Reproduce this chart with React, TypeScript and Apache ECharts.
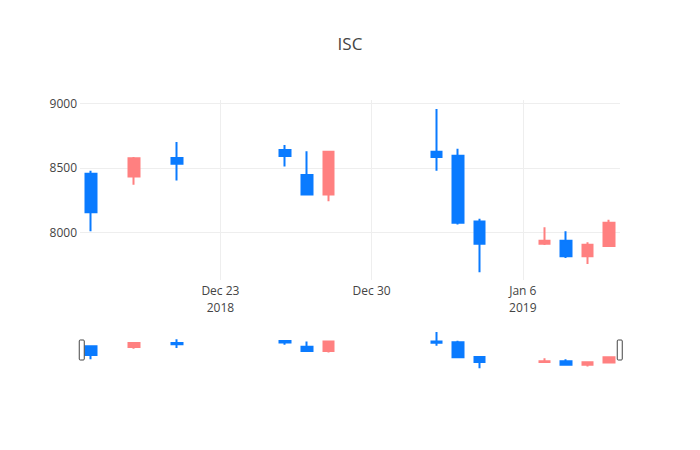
import React, { useEffect, useRef } from "react";
import * as echarts from "echarts";

// ---- data ----
const DATES = [
  "2018-12-17", "2018-12-19", "2018-12-21", "2018-12-26", "2018-12-27", "2018-12-28",
  "2019-01-02", "2019-01-03", "2019-01-04", "2019-01-07", "2019-01-08", "2019-01-09", "2019-01-10",
];
const OPEN = [8456, 8433, 8577, 8639, 8446, 8294, 8626, 8595, 8087, 7915, 7938, 7817, 7897];
const CLOSE = [8157, 8574, 8533, 8593, 8294, 8625, 8585, 8077, 7915, 7938, 7817, 7907, 8077];
const LOW = [8010, 8371, 8402, 8512, 8290, 8242, 8479, 8062, 7694, 7905, 7804, 7758, 7897];
const HIGH = [8479, 8585, 8701, 8678, 8628, 8627, 8955, 8649, 8108, 8041, 8010, 7925, 8100];

const X_MIN = "2018-12-16T12:00";
const X_MAX = "2019-01-10T12:00";
const X_TICKS = ["2018-12-23", "2018-12-30", "2019-01-06"];
const Y_MIN = 7634;
const Y_MAX = 9025;
const Y_TICKS = [8000, 8500, 9000];
const MONTHS = ["Jan", "Feb", "Mar", "Apr", "May", "Jun", "Jul", "Aug", "Sep", "Oct", "Nov", "Dec"];
const TITLE = "ISC";

const UP = "#ff8080";
const DOWN = "#0a7bff";
const FONT = "'Open Sans', sans-serif";
const TEXT = "#444";
const GRID = "#eeeeee";

// local-time milliseconds for "YYYY-MM-DD" or "YYYY-MM-DDTHH:mm"
function toMs(s: string): number {
  const [datePart, timePart] = s.split("T");
  const [y, m, d] = datePart.split("-").map(Number);
  let hh = 0;
  let mm = 0;
  if (timePart) {
    [hh, mm] = timePart.split(":").map(Number);
  }
  return new Date(y, m - 1, d, hh, mm).getTime();
}

export default function App() {
  const ref = useRef<HTMLDivElement>(null);
  useEffect(() => {
    if (!ref.current) return;
    const chart = echarts.init(ref.current, undefined, { renderer: "svg" });
    const rows = DATES.map((d, i) => [toMs(d), OPEN[i], CLOSE[i], LOW[i], HIGH[i]]);
    const tickMs = X_TICKS.map(toMs);
    const tickYears = tickMs.map((t) => new Date(t).getFullYear());
    // ticks under which the year is written (first tick and each change of year)
    const yearTickMs = tickMs.filter((t, i) => i === 0 || tickYears[i] !== tickYears[i - 1]);
    const xMin = toMs(X_MIN);
    const xMax = toMs(X_MAX);

    const candleStyle = {
      color: UP,
      color0: DOWN,
      borderColor: UP,
      borderColor0: DOWN,
      borderWidth: 2,
    };

    const labelBase = {
      color: TEXT,
      fontSize: 12,
      fontFamily: FONT,
      hideOverlap: false,
      showMinLabel: true,
      showMaxLabel: true,
    };

    chart.setOption({
      animation: false,
      backgroundColor: "#fff",
      textStyle: { fontFamily: FONT },
      title: {
        text: TITLE,
        left: "center",
        top: 30,
        textStyle: { fontFamily: FONT, fontSize: 17, fontWeight: "normal", color: TEXT },
      },
      grid: [
        { left: 80, right: 80, top: 100, height: 180 },
        { left: 80, right: 80, top: 330, height: 40 },
      ],
      xAxis: [
        {
          type: "value",
          gridIndex: 0,
          min: xMin,
          max: xMax,
          axisLine: { show: false },
          axisTick: { show: false, customValues: tickMs },
          splitLine: { show: true, lineStyle: { color: GRID, width: 1 } },
          axisLabel: {
            ...labelBase,
            customValues: tickMs,
            margin: 4,
            formatter: (val: number) => {
              const d = new Date(val);
              return MONTHS[d.getMonth()] + " " + d.getDate();
            },
          },
        },
        {
          type: "value",
          gridIndex: 1,
          min: xMin,
          max: xMax,
          show: false,
          splitLine: { show: false },
        },
        {
          type: "value",
          gridIndex: 0,
          position: "bottom",
          min: xMin,
          max: xMax,
          axisLine: { show: false },
          axisTick: { show: false, customValues: yearTickMs },
          splitLine: { show: false },
          axisLabel: {
            ...labelBase,
            customValues: yearTickMs,
            margin: 21,
            formatter: (val: number) => String(new Date(val).getFullYear()),
          },
        },
      ],
      yAxis: [
        {
          type: "value",
          gridIndex: 0,
          min: Y_MIN,
          max: Y_MAX,
          axisLine: { show: false },
          axisTick: { show: false, customValues: Y_TICKS },
          splitLine: { show: true, lineStyle: { color: GRID, width: 1 } },
          axisLabel: {
            ...labelBase,
            customValues: Y_TICKS,
            margin: 3,
            formatter: (val: number) => String(val),
          },
        },
        {
          type: "value",
          gridIndex: 1,
          min: Y_MIN,
          max: Y_MAX,
          show: false,
          splitLine: { show: false },
        },
      ],
      dataZoom: [
        {
          type: "slider",
          xAxisIndex: 1,
          filterMode: "none",
          start: 0,
          end: 100,
          left: 80,
          right: 80,
          top: 330,
          height: 40,
          showDetail: false,
          showDataShadow: false,
          brushSelect: false,
          moveHandleSize: 0,
          zoomLock: true,
          backgroundColor: "rgba(0,0,0,0)",
          borderColor: "rgba(0,0,0,0)",
          fillerColor: "rgba(0,0,0,0)",
          dataBackground: {
            lineStyle: { opacity: 0 },
            areaStyle: { opacity: 0 },
          },
          selectedDataBackground: {
            lineStyle: { opacity: 0 },
            areaStyle: { opacity: 0 },
          },
          handleIcon:
            "path://M1,0 H4 A1,1 0 0 1 5,1 V19 A1,1 0 0 1 4,20 H1 A1,1 0 0 1 0,19 V1 A1,1 0 0 1 1,0 Z",
          handleSize: "50%",
          handleStyle: { color: "#fff", borderColor: "#444", borderWidth: 1 },
          emphasis: { handleStyle: { color: "#fff", borderColor: "#444", borderWidth: 1 } },
        },
      ],
      series: [
        {
          type: "candlestick",
          xAxisIndex: 0,
          yAxisIndex: 0,
          barWidth: 11,
          data: rows,
          encode: { x: 0, y: [1, 2, 3, 4] },
          itemStyle: candleStyle,
        },
        {
          type: "candlestick",
          xAxisIndex: 1,
          yAxisIndex: 1,
          barWidth: 11,
          data: rows,
          encode: { x: 0, y: [1, 2, 3, 4] },
          itemStyle: candleStyle,
          silent: true,
        },
      ],
    });
    return () => chart.dispose();
  }, []);
  return (
    <div
      ref={ref}
      style={{ position: "absolute", left: 0, top: 0, width: 700, height: 450 }}
    />
  );
}
